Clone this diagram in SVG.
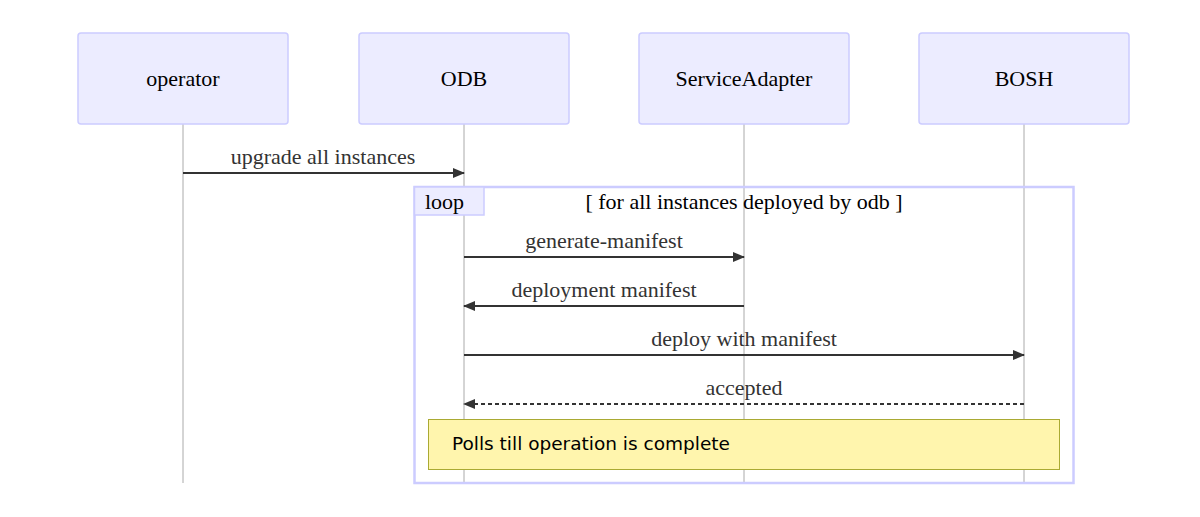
<svg xmlns="http://www.w3.org/2000/svg" width="1200" height="517" viewBox="0 0 1200 517">
<style>
.actor{fill:#ececff;stroke:#ccccff;stroke-width:1.5}
.atext{font-family:"Liberation Serif",serif;font-size:22px;fill:#000;text-anchor:middle;dominant-baseline:central}
.life{stroke:#aaaaaa;stroke-width:1}
.msg{stroke:#333;stroke-width:2;fill:none}
.dash{stroke-dasharray:4 3}
.mtext{font-family:"Liberation Serif",serif;font-size:22px;fill:#333;text-anchor:middle}
.loop{fill:none;stroke:#ccccff;stroke-width:2.5}
.looplbl{fill:#ececff;stroke:#ccccff;stroke-width:1.5}
.ltext{font-family:"Liberation Serif",serif;font-size:22px;fill:#000}
.note{fill:#fff5ad;stroke:#aaaa33;stroke-width:1}
.ntext{font-family:"DejaVu Sans",sans-serif;font-size:18.5px;fill:#000}
</style>
<defs>
<marker id="ah" markerWidth="12" markerHeight="10" refX="11" refY="5" orient="auto" markerUnits="userSpaceOnUse">
<path d="M0,0 L12,5 L0,10 z" fill="#333"/>
</marker>
</defs>
<rect width="1200" height="517" fill="#fff"/>
<g id="lifelines">
<line class="life" x1="183" y1="124" x2="183" y2="483"/>
<line class="life" x1="464" y1="124" x2="464" y2="483"/>
<line class="life" x1="744" y1="124" x2="744" y2="483"/>
<line class="life" x1="1024" y1="124" x2="1024" y2="483"/>
</g>
<g id="operator"><rect class="actor" x="78" y="33" width="210" height="91" rx="3"/><text class="atext" x="183" y="78.5">operator</text></g>
<g id="ODB"><rect class="actor" x="359" y="33" width="210" height="91" rx="3"/><text class="atext" x="464" y="78.5">ODB</text></g>
<g id="ServiceAdapter"><rect class="actor" x="639" y="33" width="210" height="91" rx="3"/><text class="atext" x="744" y="78.5">ServiceAdapter</text></g>
<g id="BOSH"><rect class="actor" x="919" y="33" width="210" height="91" rx="3"/><text class="atext" x="1024" y="78.5">BOSH</text></g>
<g id="loop">
<rect class="loop" x="414.5" y="187" width="659" height="296"/>
<rect class="looplbl" x="414.5" y="187" width="69.5" height="28"/>
<text class="ltext" x="425" y="209">loop</text>
<text class="ltext" x="744" y="209" text-anchor="middle">[ for all instances deployed by odb ]</text>
</g>
<g id="note"><rect class="note" x="428.5" y="419.5" width="631" height="50"/><text class="ntext" x="452" y="450">Polls till operation is complete</text></g>
<g id="connectors">
<line class="msg" x1="183" y1="173" x2="464" y2="173" marker-end="url(#ah)"/>
<text class="mtext" x="323" y="164">upgrade all instances</text>
<line class="msg" x1="464" y1="257" x2="744" y2="257" marker-end="url(#ah)"/>
<text class="mtext" x="604" y="248">generate-manifest</text>
<line class="msg" x1="744" y1="306" x2="464" y2="306" marker-end="url(#ah)"/>
<text class="mtext" x="604" y="297">deployment manifest</text>
<line class="msg" x1="464" y1="355" x2="1024" y2="355" marker-end="url(#ah)"/>
<text class="mtext" x="744" y="346">deploy with manifest</text>
<line class="msg dash" x1="1024" y1="404" x2="464" y2="404" marker-end="url(#ah)"/>
<text class="mtext" x="744" y="395">accepted</text>
</g>
</svg>
